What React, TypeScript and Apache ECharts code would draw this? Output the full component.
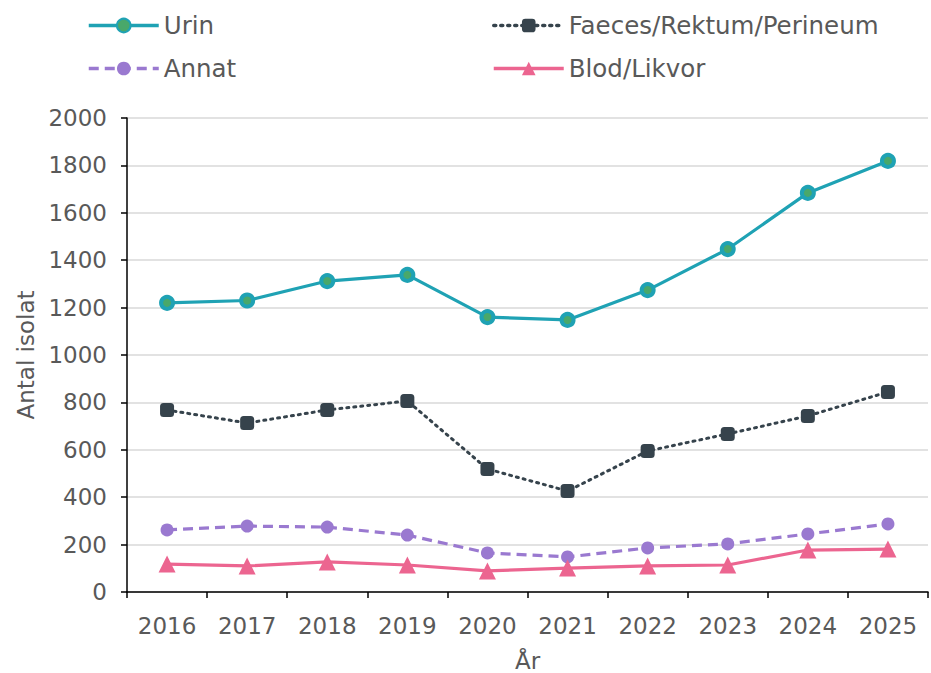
import React, { useEffect, useRef } from "react";
import * as echarts from "echarts";

const years = ["2016", "2017", "2018", "2019", "2020", "2021", "2022", "2023", "2024", "2025"];
const urin = [1220, 1230, 1312, 1338, 1160, 1148, 1274, 1447, 1684, 1819];
const faeces = [768, 713, 768, 806, 519, 426, 595, 667, 743, 844];
const annat = [262, 278, 274, 240, 165, 148, 186, 203, 245, 287];
const blod = [118, 110, 127, 114, 89, 101, 110, 114, 177, 181];

const FONT = "DejaVu Sans";
const TXT = "#595959";

export default function App() {
  const ref = useRef<HTMLDivElement>(null);
  useEffect(() => {
    if (!ref.current) return;
    const chart = echarts.init(ref.current, null, { renderer: "svg" });
    const legendText = { fontFamily: FONT, fontSize: 24.5, color: TXT };
    const legendBase = {
      orient: "vertical",
      top: 13,
      padding: 0,
      itemWidth: 70,
      itemHeight: 17,
      itemGap: 18,
      textStyle: legendText,
      lineStyle: { width: 3.5 },
    };
    chart.setOption({
      animation: false,
      textStyle: { fontFamily: FONT },
      legend: [
        { ...legendBase, data: ["Urin", "Annat"], left: 87 },
        { ...legendBase, data: ["Faeces/Rektum/Perineum", "Blod/Likvor"], left: 492 },
      ],
      grid: { left: 127, right: 3, top: 118, bottom: 81, containLabel: false, outerBoundsMode: "none" },
      xAxis: {
        type: "category",
        data: years,
        boundaryGap: true,
        name: "År",
        nameLocation: "middle",
        nameGap: 57,
        nameTextStyle: { fontFamily: FONT, fontSize: 23, color: TXT },
        axisLine: { lineStyle: { color: "#000", width: 1.5 } },
        axisTick: { show: true, length: 6, lineStyle: { color: "#000", width: 1.5 } },
        axisLabel: { fontFamily: FONT, fontSize: 23, color: TXT, margin: 22 },
        splitLine: { show: false },
      },
      yAxis: {
        type: "value",
        min: 0,
        max: 2000,
        interval: 200,
        name: "Antal isolat",
        nameLocation: "middle",
        nameGap: 84,
        nameTextStyle: { fontFamily: FONT, fontSize: 23, color: TXT },
        axisLine: { show: true, lineStyle: { color: "#000", width: 1.5 } },
        axisTick: { show: true, length: 6, lineStyle: { color: "#000", width: 1.5 } },
        axisLabel: { fontFamily: FONT, fontSize: 23, color: TXT, margin: 20, formatter: (v: number) => String(v) },
        splitLine: { show: true, lineStyle: { color: "#D9D9D9", width: 1.5 } },
      },
      series: [
        {
          name: "Urin",
          type: "line",
          data: urin,
          symbol: "circle",
          symbolSize: 12,
          lineStyle: { color: "#1FA2B4", width: 3.2, type: "solid" },
          itemStyle: { color: "#49A86A", borderColor: "#1FA2B4", borderWidth: 4 },
        },
        {
          name: "Faeces/Rektum/Perineum",
          type: "line",
          data: faeces,
          symbol: "roundRect",
          symbolSize: 14,
          lineStyle: { color: "#36434C", width: 3, type: [2, 5], cap: "round" },
          itemStyle: { color: "#36434C" },
        },
        {
          name: "Annat",
          type: "line",
          data: annat,
          symbol: "circle",
          symbolSize: 13,
          lineStyle: { color: "#9A79D0", width: 3.2, type: [10, 6] },
          itemStyle: { color: "#9A79D0" },
        },
        {
          name: "Blod/Likvor",
          type: "line",
          data: blod,
          symbol: "triangle",
          symbolSize: 17,
          lineStyle: { color: "#EC6590", width: 3.2, type: "solid" },
          itemStyle: { color: "#EC6590" },
        },
      ],
    });
    return () => chart.dispose();
  }, []);
  return <div ref={ref} style={{ width: 931, height: 673, position: "absolute", left: 0, top: 0 }} />;
}
